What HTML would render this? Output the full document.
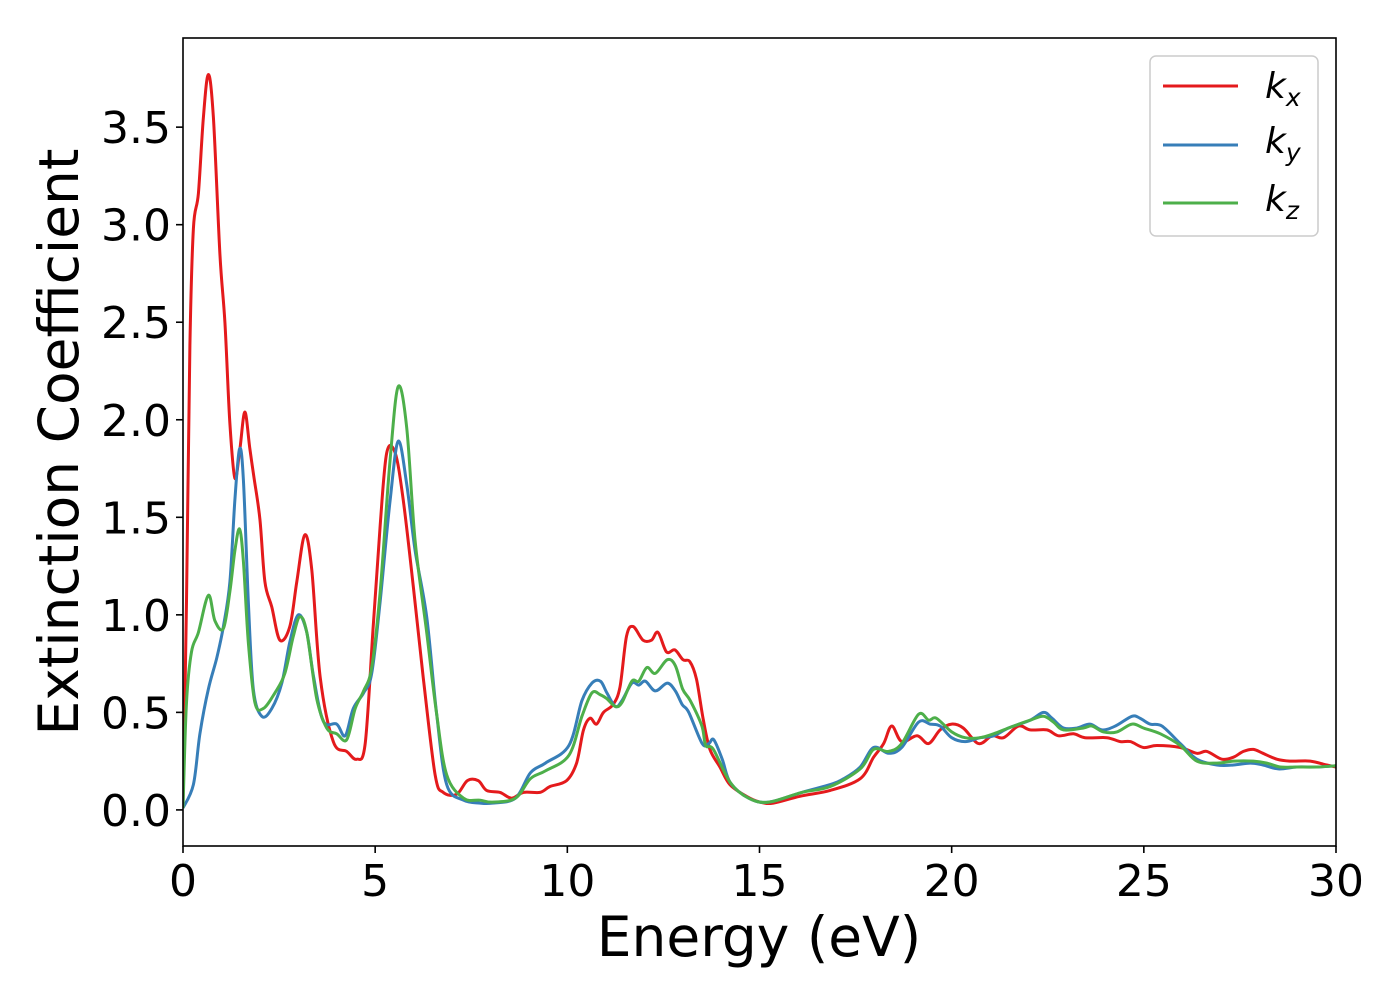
<!DOCTYPE html>
<html><head><meta charset="utf-8"><style>
html,body{margin:0;padding:0;background:#fff;}
svg{display:block;font-family:"DejaVu Sans","Liberation Sans",sans-serif;}
</style></head><body>
<svg id="chart" width="1400" height="1000" viewBox="0 0 1400 1000" xmlns="http://www.w3.org/2000/svg">
<rect x="0" y="0" width="1400" height="1000" fill="#fff"/>
<g id="series"></g>
<rect x="183" y="38" width="1153" height="808" fill="none" stroke="#000" stroke-width="1.6"/>
<g id="xticks"></g>
<g id="yticks"></g>
<text x="759" y="956" font-size="55" text-anchor="middle">Energy (eV)</text>
<text x="78" y="442" font-size="55" text-anchor="middle" transform="rotate(-90 78 442)">Extinction Coefficient</text>
<g>
<rect x="1150" y="56" width="168" height="180" rx="6" fill="#fff" fill-opacity="0.8" stroke="#ccc" stroke-width="1.5"/>
<g><line x1="1163" y1="86" x2="1238" y2="86" stroke="#e41a1c" stroke-width="3"/><text x="1265" y="98" font-size="36" font-style="italic">k<tspan font-size="25" dy="8">x</tspan></text></g>
<g><line x1="1163" y1="145" x2="1238" y2="145" stroke="#377eb8" stroke-width="3"/><text x="1265" y="153" font-size="36" font-style="italic">k<tspan font-size="25" dy="8">y</tspan></text></g>
<g><line x1="1163" y1="203" x2="1238" y2="203" stroke="#4daf4a" stroke-width="3"/><text x="1265" y="211" font-size="36" font-style="italic">k<tspan font-size="25" dy="8">z</tspan></text></g>
</g>
</svg>
<script>
const xTicks = [0,5,10,15,20,25,30];
const yTicks = [0.0,0.5,1.0,1.5,2.0,2.5,3.0,3.5];
const kxE = [0,0.09,0.18,0.27,0.4,0.53,0.66,0.79,0.96,1.09,1.22,1.35,1.48,1.61,1.74,1.85,2.0,2.13,2.31,2.52,2.78,2.96,3.17,3.35,3.57,3.91,4.26,4.52,4.74,4.95,5.13,5.3,5.52,5.73,5.99,6.25,6.56,6.77,7.12,7.4,7.68,7.9,8.25,8.55,8.86,9.29,9.55,9.98,10.24,10.42,10.59,10.76,10.94,11.19,11.37,11.54,11.71,11.97,12.19,12.36,12.58,12.8,13.01,13.19,13.36,13.54,13.71,13.97,14.23,14.66,15.01,15.36,16.05,16.84,17.62,17.97,18.23,18.44,18.7,19.1,19.4,19.7,20.0,20.3,20.7,21.05,21.35,21.74,22.04,22.48,22.78,23.17,23.47,24.04,24.39,24.65,24.99,25.34,25.95,26.38,26.64,27.03,27.33,27.59,27.85,28.1,28.46,28.8,29.33,29.76,30];
const kxV = [0.02,1.07,2.38,2.98,3.16,3.55,3.77,3.55,2.85,2.5,1.98,1.7,1.85,2.04,1.85,1.7,1.49,1.17,1.04,0.87,0.94,1.17,1.41,1.23,0.68,0.35,0.3,0.26,0.34,0.94,1.46,1.83,1.83,1.59,1.15,0.68,0.18,0.09,0.08,0.15,0.15,0.1,0.09,0.06,0.09,0.09,0.12,0.15,0.24,0.41,0.47,0.44,0.5,0.54,0.63,0.89,0.94,0.87,0.87,0.91,0.81,0.82,0.77,0.76,0.67,0.46,0.31,0.22,0.13,0.07,0.04,0.035,0.07,0.1,0.16,0.27,0.34,0.43,0.35,0.38,0.34,0.41,0.44,0.42,0.34,0.38,0.37,0.43,0.41,0.41,0.38,0.39,0.37,0.37,0.35,0.35,0.32,0.33,0.32,0.29,0.3,0.26,0.27,0.3,0.31,0.29,0.26,0.25,0.25,0.23,0.22];
const kyE = [0,0.27,0.44,0.66,0.88,1.05,1.22,1.35,1.47,1.57,1.7,1.83,2.05,2.31,2.57,2.78,3.0,3.22,3.4,3.65,4.0,4.22,4.43,4.7,4.91,5.13,5.39,5.6,5.82,6.04,6.34,6.6,6.86,7.3,7.73,8.05,8.65,9.04,9.43,10.04,10.38,10.64,10.86,11.03,11.25,11.42,11.68,11.86,12.03,12.29,12.6,12.81,12.99,13.16,13.51,13.68,13.81,14.03,14.24,14.72,15.24,16.1,16.84,17.19,17.62,17.97,18.36,18.7,19.14,19.44,19.7,20.0,20.35,20.74,21.09,21.48,22.04,22.39,22.61,22.91,23.26,23.6,23.91,24.26,24.69,24.9,25.16,25.47,25.95,26.38,26.9,27.33,27.77,28.1,28.5,28.98,29.5,30];
const kyV = [0.01,0.13,0.39,0.62,0.78,0.94,1.17,1.59,1.85,1.7,1.07,0.62,0.48,0.52,0.65,0.86,1.0,0.91,0.68,0.455,0.44,0.38,0.52,0.6,0.7,1.07,1.59,1.89,1.67,1.33,0.99,0.49,0.13,0.05,0.035,0.035,0.06,0.19,0.24,0.33,0.56,0.65,0.66,0.6,0.53,0.56,0.65,0.64,0.66,0.61,0.65,0.61,0.54,0.5,0.34,0.34,0.36,0.26,0.14,0.06,0.04,0.09,0.13,0.16,0.22,0.32,0.29,0.32,0.45,0.44,0.43,0.37,0.35,0.37,0.38,0.42,0.46,0.5,0.47,0.42,0.42,0.44,0.41,0.43,0.48,0.47,0.44,0.43,0.34,0.26,0.23,0.23,0.24,0.23,0.21,0.22,0.22,0.226];
const kzE = [0,0.09,0.22,0.4,0.66,0.83,1.05,1.22,1.35,1.47,1.57,1.7,1.87,2.09,2.39,2.65,2.87,3.04,3.22,3.48,3.74,4.0,4.26,4.48,4.7,4.91,5.13,5.39,5.6,5.82,6.04,6.34,6.6,6.86,7.3,7.73,8.05,8.65,9.04,9.43,10.04,10.38,10.64,10.86,11.03,11.25,11.42,11.68,11.86,12.07,12.29,12.6,12.81,13.0,13.2,13.5,13.6,13.8,14.24,14.72,15.24,16.1,16.84,17.62,17.97,18.36,18.7,19.14,19.4,19.6,20.0,20.35,20.74,21.09,21.48,22.04,22.39,22.65,22.91,23.43,23.65,23.95,24.3,24.69,24.99,25.43,25.95,26.38,26.9,27.33,27.85,28.2,28.55,28.98,29.5,30];
const kzV = [0.01,0.55,0.81,0.91,1.1,0.97,0.93,1.12,1.33,1.44,1.28,0.86,0.55,0.52,0.6,0.7,0.89,0.99,0.91,0.57,0.42,0.39,0.36,0.52,0.61,0.73,1.12,1.8,2.17,1.96,1.38,0.91,0.49,0.18,0.06,0.05,0.04,0.06,0.16,0.2,0.28,0.48,0.6,0.59,0.57,0.53,0.55,0.66,0.66,0.73,0.7,0.77,0.74,0.62,0.56,0.43,0.33,0.31,0.14,0.06,0.04,0.09,0.12,0.21,0.31,0.3,0.34,0.49,0.46,0.47,0.4,0.37,0.37,0.39,0.42,0.46,0.48,0.45,0.41,0.42,0.43,0.4,0.4,0.44,0.42,0.39,0.33,0.25,0.24,0.25,0.25,0.24,0.22,0.22,0.22,0.226];

const NS="http://www.w3.org/2000/svg";
const X0=183,X1=1336,Y0=846,Y1=38,xMin=0,xMax=30,yMin=-0.185,yMax=3.957;
function xs(v){return X0+(v-xMin)/(xMax-xMin)*(X1-X0);}
function ys(v){return Y0-(v-yMin)/(yMax-yMin)*(Y0-Y1);}
function pathFor(E,V){
  const p=E.map((e,i)=>[xs(e),ys(V[i])]);
  let d="M"+p[0][0].toFixed(1)+","+p[0][1].toFixed(1);
  for(let i=0;i<p.length-1;i++){
    const a=p[Math.max(i-1,0)],b=p[i],c=p[i+1],n=p[Math.min(i+2,p.length-1)];
    const c1x=b[0]+(c[0]-a[0])/6,c1y=b[1]+(c[1]-a[1])/6;
    const c2x=c[0]-(n[0]-b[0])/6,c2y=c[1]-(n[1]-b[1])/6;
    d+=" C"+c1x.toFixed(1)+","+c1y.toFixed(1)+" "+c2x.toFixed(1)+","+c2y.toFixed(1)+" "+c[0].toFixed(1)+","+c[1].toFixed(1);
  }
  return d;
}
const sg=document.getElementById("series");
const clip=document.createElementNS(NS,"clipPath");clip.setAttribute("id","pc");
const cr=document.createElementNS(NS,"rect");cr.setAttribute("x",X0);cr.setAttribute("y",Y1);cr.setAttribute("width",X1-X0);cr.setAttribute("height",Y0-Y1);
clip.appendChild(cr);sg.appendChild(clip);
[[kxE,kxV,"#e41a1c","line-kx"],[kyE,kyV,"#377eb8","line-ky"],[kzE,kzV,"#4daf4a","line-kz"]].forEach(s=>{
  const el=document.createElementNS(NS,"path");
  el.setAttribute("d",pathFor(s[0],s[1]));
  el.setAttribute("fill","none");el.setAttribute("stroke",s[2]);el.setAttribute("stroke-width","3");
  el.setAttribute("stroke-linejoin","round");el.setAttribute("clip-path","url(#pc)");
  
  
  sg.appendChild(el);
});
const xg=document.getElementById("xticks");
xTicks.forEach(t=>{
  const l=document.createElementNS(NS,"line");
  l.setAttribute("x1",xs(t));l.setAttribute("x2",xs(t));l.setAttribute("y1",Y0);l.setAttribute("y2",Y0+7);
  l.setAttribute("stroke","#000");l.setAttribute("stroke-width","1.6");
  
  
  xg.appendChild(l);
  const tx=document.createElementNS(NS,"text");
  tx.setAttribute("x",xs(t));tx.setAttribute("y",Y0+50);tx.setAttribute("font-size","44");tx.setAttribute("text-anchor","middle");
  tx.textContent=String(t);
  
  
  xg.appendChild(tx);
});
const yg=document.getElementById("yticks");
yTicks.forEach(t=>{
  const l=document.createElementNS(NS,"line");
  l.setAttribute("x1",X0-7);l.setAttribute("x2",X0);l.setAttribute("y1",ys(t));l.setAttribute("y2",ys(t));
  l.setAttribute("stroke","#000");l.setAttribute("stroke-width","1.6");
  
  
  yg.appendChild(l);
  const tx=document.createElementNS(NS,"text");
  tx.setAttribute("x",X0-12);tx.setAttribute("y",ys(t)+16);tx.setAttribute("font-size","44");tx.setAttribute("text-anchor","end");
  tx.textContent=t.toFixed(1);
  
  
  yg.appendChild(tx);
});
</script>
</body></html>
